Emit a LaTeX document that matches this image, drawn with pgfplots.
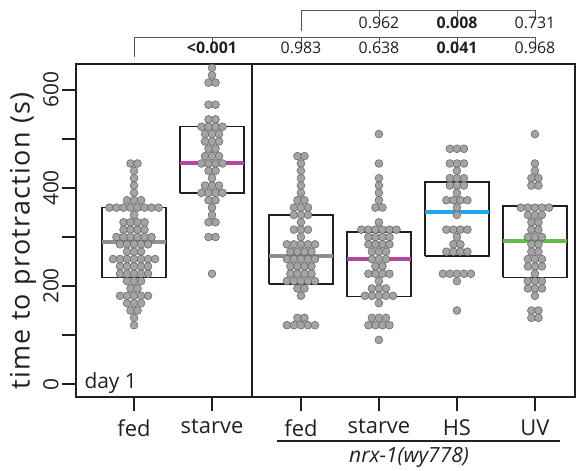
\documentclass[border=0pt]{standalone}
\usepackage{fontspec}
\setmainfont{Open Sans}
\usepackage{pgfplots}
\pgfplotsset{compat=1.18}

\definecolor{framecol}{HTML}{231F20}
\definecolor{ptfill}{HTML}{A4A4A4}
\definecolor{ptedge}{HTML}{6A6A6A}
\definecolor{medgray}{HTML}{8F8F8F}
\definecolor{medmag}{HTML}{B5489C}
\definecolor{medblue}{HTML}{1BAAE6}
\definecolor{medgreen}{HTML}{67BC47}
\definecolor{brkcol}{HTML}{555555}

\pgfplotsset{
  swarm/.style={only marks, mark=*, mark size=3.9bp,
    mark options={fill=ptfill, draw=ptedge, line width=0.6bp}},
  pbox/.style={draw=framecol, line width=1.3bp, no marks},
  med/.style={line width=4bp, no marks},
}

\begin{document}
\begin{tikzpicture}
\begin{axis}[
  at={(76bp,-397bp)}, anchor=south west,
  scale only axis, width=499bp, height=333bp,
  xmin=-0.744, xmax=5.654, ymin=-26.5, ymax=653,
  axis line style={draw=framecol, line width=1.3bp},
  tick align=outside, xtick pos=bottom, ytick pos=left,
  major tick length=14bp,
  tick style={draw=framecol, line width=1.3bp},
  xtick={0,1,2.14,3.14,4.14,5.14},
  xticklabels={fed,starve,fed,starve,HS,UV},
  ytick={0,100,...,600},
  yticklabels={0,,200,,400,,600},
  xticklabel style={font=\fontsize{22}{26}\selectfont, text=framecol, yshift=-5bp},
  yticklabel style={font=\fontsize{21}{25}\selectfont, text=framecol, rotate=90, anchor=south},
  /pgf/number format/assume math mode=true,
  clip=false,
]

% boxes (quartiles)
\addplot[pbox] coordinates {(-0.41,217) (0.41,217) (0.41,360) (-0.41,360) (-0.41,217)};
\addplot[pbox] coordinates {(0.59,390) (1.41,390) (1.41,525) (0.59,525) (0.59,390)};
\addplot[pbox] coordinates {(1.73,204) (2.55,204) (2.55,345) (1.73,345) (1.73,204)};
\addplot[pbox] coordinates {(2.73,178) (3.55,178) (3.55,310) (2.73,310) (2.73,178)};
\addplot[pbox] coordinates {(3.73,261) (4.55,261) (4.55,412) (3.73,412) (3.73,261)};
\addplot[pbox] coordinates {(4.73,218) (5.55,218) (5.55,363) (4.73,363) (4.73,218)};

% wild type, fed
\addplot[swarm] table[row sep=\\, x expr=0+0.09*\thisrow{k}, y=v] {
k v\\
-0.5 450\\ 0.5 450\\ 0 435\\ 0 420\\ 0 405\\ 0 390\\
-1 375\\ 0 375\\ 1 375\\
-3.5 360\\ -2.5 360\\ -1.5 360\\ -0.5 360\\ 0.5 360\\ 1.5 360\\ 2.5 360\\ 3.5 360\\
0 345\\
-1.5 330\\ -0.5 330\\ 0.5 330\\ 1.5 330\\
-1.5 315\\ -0.5 315\\ 0.5 315\\ 1.5 315\\
-2.5 300\\ -1.5 300\\ -0.5 300\\ 0.5 300\\ 1.5 300\\ 2.5 300\\
-2 285\\ -1 285\\ 0 285\\ 1 285\\ 2 285\\
-1 270\\ 0 270\\ 1 270\\
-3 255\\ -2 255\\ -1 255\\ 0 255\\ 1 255\\ 2 255\\ 3 255\\
-2 240\\ -1 240\\ 0 240\\ 1 240\\ 2 240\\
-2 225\\ -1 225\\ 0 225\\ 1 225\\ 2 225\\
-1 210\\ 0 210\\ 1 210\\
-0.5 195\\ 0.5 195\\
-2 180\\ -1 180\\ 0 180\\ 1 180\\ 2 180\\
-1 165\\ 0 165\\ 1 165\\
-0.5 150\\ 0.5 150\\ 0 135\\ 0 120\\
};

% wild type, starve
\addplot[swarm] table[row sep=\\, x expr=1+0.09*\thisrow{k}, y=v] {
k v\\
0 645\\ 0 630\\ -0.5 615\\ 0.5 615\\ -0.5 570\\ 0.5 570\\ -0.5 540\\ 0.5 540\\
-1.5 525\\ -0.5 525\\ 0.5 525\\ 1.5 525\\
-1 510\\ 0 510\\ 1 510\\
-1 495\\ 0 495\\ 1 495\\
-0.5 480\\ 0.5 480\\
-1 465\\ 0 465\\ 1 465\\
-1.5 450\\ -0.5 450\\ 0.5 450\\ 1.5 450\\
-0.5 435\\ 0.5 435\\ 0 420\\
-1 405\\ 0 405\\ 1 405\\
-1.5 390\\ -0.5 390\\ 0.5 390\\ 1.5 390\\
-0.5 375\\ 0.5 375\\ 0 360\\ 0 345\\
-0.5 330\\ 0.5 330\\ -0.5 300\\ 0.5 300\\ 0 225\\
};

% nrx-1, fed
\addplot[swarm] table[row sep=\\, x expr=2.14+0.09*\thisrow{k}, y=v] {
k v\\
-0.5 465\\ 0.5 465\\ 0 450\\ 0 435\\ 0 420\\ 0 405\\ 0 390\\
-0.5 375\\ 0.5 375\\
-1 360\\ 0 360\\ 1 360\\
-1 345\\ 0 345\\ 1 345\\
0 330\\
-1 315\\ 0 315\\ 1 315\\
0 300\\
-2 285\\ -1 285\\ 0 285\\ 1 285\\ 2 285\\
-1.5 270\\ -0.5 270\\ 0.5 270\\ 1.5 270\\
-2 255\\ -1 255\\ 0 255\\ 1 255\\ 2 255\\
-1.5 240\\ -0.5 240\\ 0.5 240\\ 1.5 240\\
-1.5 225\\ -0.5 225\\ 0.5 225\\ 1.5 225\\
-2 210\\ -1 210\\ 0 210\\ 1 210\\ 2 210\\
-0.5 195\\ 0.5 195\\ 0 180\\
-0.5 135\\ 0.5 135\\
-2 120\\ -1 120\\ 0 120\\ 1 120\\ 2 120\\
};

% nrx-1, starve
\addplot[swarm] table[row sep=\\, x expr=3.14+0.09*\thisrow{k}, y=v] {
k v\\
0 510\\ 0 450\\ 0 420\\ 0 405\\ 0 390\\ 0 375\\
-0.5 360\\ 0.5 360\\ 0 330\\
-2.5 315\\ -1.5 315\\ -0.5 315\\ 0.5 315\\ 1.5 315\\ 2.5 315\\
-1.5 300\\ -0.5 300\\ 0.5 300\\ 1.5 300\\
-1.5 285\\ -0.5 285\\ 0.5 285\\ 1.5 285\\
-1 270\\ 0 270\\ 1 270\\
-1 255\\ 0 255\\ 1 255\\
-0.5 240\\ 0.5 240\\
-1.5 225\\ -0.5 225\\ 0.5 225\\ 1.5 225\\
0 210\\
-1 195\\ 0 195\\ 1 195\\
-2 180\\ -1 180\\ 0 180\\ 1 180\\ 2 180\\
0 165\\
-1 135\\ 0 135\\ 1 135\\
-1.5 120\\ -0.5 120\\ 0.5 120\\ 1.5 120\\
0 90\\
};

% nrx-1, HS
\addplot[swarm] table[row sep=\\, x expr=4.14+0.09*\thisrow{k}, y=v] {
k v\\
-1 480\\ 0 480\\ 1 480\\
-1 450\\ 0 450\\ 1 450\\
0 435\\
-1 420\\ 0 420\\ 1 420\\
-1 405\\ 0 405\\ 1 405\\
0 390\\
-1.5 375\\ -0.5 375\\ 0.5 375\\ 1.5 375\\
0 360\\ 0 345\\
-1.5 315\\ -0.5 315\\ 0.5 315\\ 1.5 315\\
0 300\\
-0.5 285\\ 0.5 285\\
-1.5 270\\ -0.5 270\\ 0.5 270\\ 1.5 270\\
-2 225\\ -1 225\\ 0 225\\ 1 225\\ 2 225\\
0 210\\ 0 150\\
};

% nrx-1, UV
\addplot[swarm] table[row sep=\\, x expr=5.14+0.09*\thisrow{k}, y=v] {
k v\\
0 510\\ 0 450\\ 0 435\\
-0.5 420\\ 0.5 420\\ -0.5 405\\ 0.5 405\\
-2 360\\ -1 360\\ 0 360\\ 1 360\\ 2 360\\
-1 345\\ 0 345\\ 1 345\\
-0.5 330\\ 0.5 330\\
-0.5 315\\ 0.5 315\\
-1 300\\ 0 300\\ 1 300\\
-0.5 285\\ 0.5 285\\
-0.5 270\\ 0.5 270\\
-1 255\\ 0 255\\ 1 255\\
-1 240\\ 0 240\\ 1 240\\
0 225\\
-1 210\\ 0 210\\ 1 210\\
-1 195\\ 0 195\\ 1 195\\
0 180\\
-0.5 150\\ 0.5 150\\
-0.5 135\\ 0.5 135\\
};

% medians
\addplot[med, medgray]  coordinates {(-0.41,289) (0.41,289)};
\addplot[med, medmag]   coordinates {(0.59,452) (1.41,452)};
\addplot[med, medgray]  coordinates {(1.73,261) (2.55,261)};
\addplot[med, medmag]   coordinates {(2.73,255) (3.55,255)};
\addplot[med, medblue]  coordinates {(3.73,351) (4.55,351)};
\addplot[med, medgreen] coordinates {(4.73,292) (5.55,292)};

% panel divider
\addplot[framecol, line width=1.3bp, no marks] coordinates {(1.513,-26.5) (1.513,653)};
\end{axis}

\begin{scope}[x=1bp, y=-1bp, brk/.style={draw=brkcol, line width=0.9bp},
  pv/.style={font=\fontsize{16}{19}\selectfont, text=framecol}]
  \draw[brk] (134,57) -- (134,37) -- (535,37) -- (535,46);
  \foreach \bx in {212,301,379,457} \draw[brk] (\bx,37) -- (\bx,44);
  \draw[brk] (301,31) -- (301,10) -- (535,10) -- (535,20);
  \foreach \bx in {379,457} \draw[brk] (\bx,10) -- (\bx,17);
  \node[pv] at (212,48) {\textbf{<0.001}};
  \node[pv] at (301,48) {0.983};
  \node[pv] at (379,48) {0.638};
  \node[pv] at (457,48) {\textbf{0.041}};
  \node[pv] at (535,48) {0.968};
  \node[pv] at (379,23) {0.962};
  \node[pv] at (457,23) {\textbf{0.008}};
  \node[pv] at (535,23) {0.731};
  \node[anchor=west, font=\fontsize{21}{25}\selectfont, text=framecol] at (81,383) {day 1};
  \node[rotate=90, font=\fontsize{27}{32}\selectfont\addfontfeature{LetterSpace=5}, text=framecol] at (23,241) {time to protraction (s)};
  \draw[framecol, line width=1.5bp] (277,441) -- (560,441);
  \node[font=\fontsize{21}{25}\selectfont\itshape, text=framecol] at (409,457) {nrx-1(wy778)};
\end{scope}

\pgfresetboundingbox
\path (0,0) rectangle (583bp,-471bp);
\end{tikzpicture}
\end{document}
